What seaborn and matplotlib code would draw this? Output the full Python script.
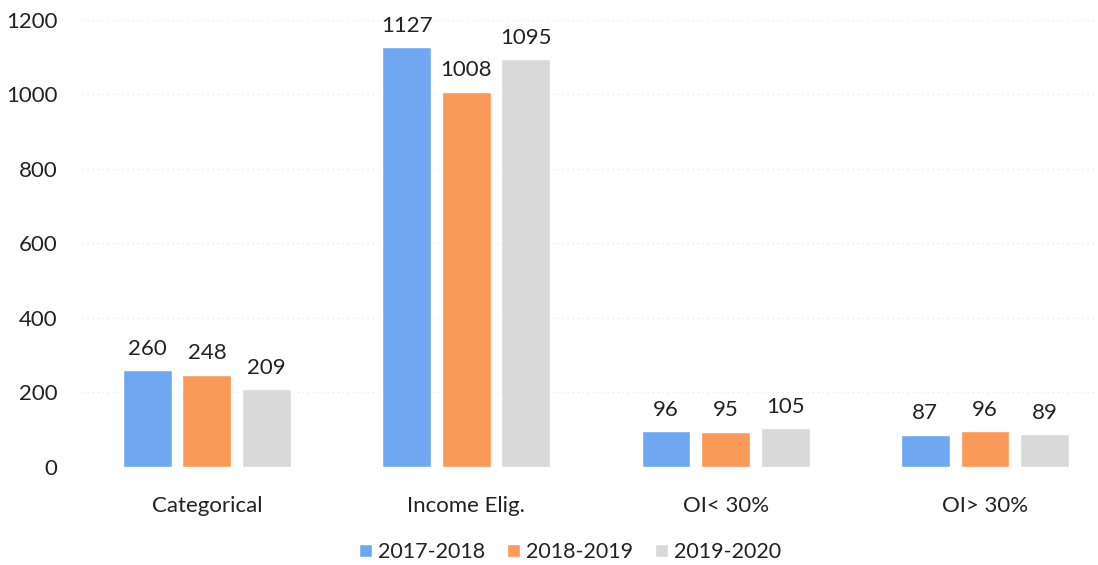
import matplotlib
matplotlib.use("Agg")
import matplotlib.pyplot as plt
import seaborn as sns
import pandas as pd

categories = ["Categorical", "Income Elig.", "OI< 30%", "OI> 30%"]
periods = ["2017-2018", "2018-2019", "2019-2020"]
values_2017_2018 = [260, 1127, 96, 87]
values_2018_2019 = [248, 1008, 95, 96]
values_2019_2020 = [209, 1095, 105, 89]
y_ticks = [0, 200, 400, 600, 800, 1000, 1200]

colors = ["#6fa8f0", "#fa9a58", "#d9d9d9"]

rows = []
for period, vals in zip(periods, [values_2017_2018, values_2018_2019, values_2019_2020]):
    for cat, v in zip(categories, vals):
        rows.append({"category": cat, "period": period, "value": v})
df = pd.DataFrame(rows)

sns.set_theme(style="white")
plt.rcParams["font.family"] = ["Lato", "DejaVu Sans"]

fs = 16
fig = plt.figure(figsize=(10.98, 5.65), dpi=100)
ax = fig.add_axes([0.0751, 0.1735, 0.9212, 0.7911])

sns.barplot(data=df, x="category", y="value", hue="period", order=categories,
            hue_order=periods, palette=colors, width=0.69, gap=0.18,
            saturation=1, ax=ax, errorbar=None)

for cont in ax.containers:
    ax.bar_label(cont, padding=8, fontsize=fs, color="#222222", clip_on=False)

ax.set_ylim(0, 1200)
ax.set_yticks(y_ticks)
ax.set_xlim(-0.48, 3.42)
ax.set_xlabel("")
ax.set_ylabel("")
for s in ax.spines.values():
    s.set_visible(False)
ax.tick_params(axis="y", labelsize=fs, pad=18, length=0, colors="#222222")
ax.tick_params(axis="x", labelsize=fs, pad=21, length=0, colors="#222222")
for yv in y_ticks[1:]:
    ax.axhline(yv, color="#e8e8e8", linewidth=0.9, linestyle=(0, (1, 3)), zorder=0)

handles, labels = ax.get_legend_handles_labels()
ax.get_legend().remove()
fig.legend(handles, labels, loc="center", bbox_to_anchor=(570 / 1098, 1 - 552 / 565),
           ncol=3, frameon=False, fontsize=15.5, handlelength=0.6, handleheight=0.6,
           handletextpad=0.3, columnspacing=1.0, labelcolor="#222222")

fig.savefig("out.png", dpi=100)
